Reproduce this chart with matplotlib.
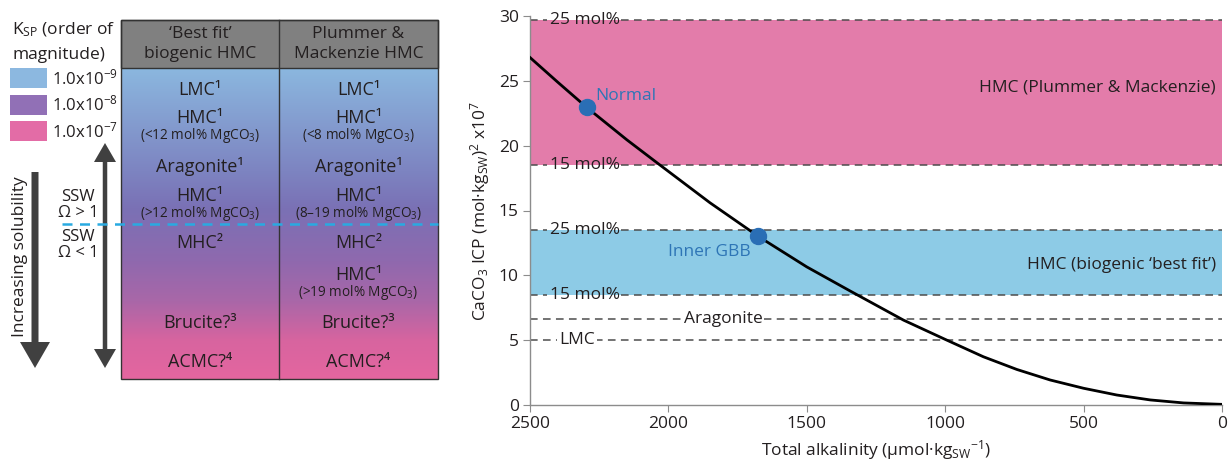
import numpy as np
import matplotlib
matplotlib.use("Agg")
import matplotlib.pyplot as plt
from matplotlib.patches import Rectangle, FancyArrow
from matplotlib.colors import LinearSegmentedColormap

plt.rcParams['font.family'] = ['Open Sans', 'DejaVu Sans']
plt.rcParams['mathtext.fontset'] = 'custom'
plt.rcParams['mathtext.rm'] = 'Open Sans'
plt.rcParams['mathtext.it'] = 'Open Sans:italic'
plt.rcParams['mathtext.bf'] = 'Open Sans:bold'

TXT = '#231F20'

# ---- data: curve ----
alkalinity = [2500, 2400, 2295, 2150, 2030, 1850, 1705, 1675, 1500, 1344, 1151, 1000,
              862, 741, 621, 500, 380, 259, 139, 0]
icp = [26.8, 24.9, 22.95, 20.45, 18.5, 15.6, 13.45, 13.0, 10.65, 8.8, 6.55, 5.06,
       3.72, 2.74, 1.93, 1.29, 0.77, 0.39, 0.16, 0.05]

site_names = ['Normal', 'Inner GBB']
site_alk = [2295, 1675]
site_icp = [23.0, 13.0]

# threshold lines (value, label)
line_vals = [29.7, 18.5, 13.5, 8.5, 6.6, 5.0]
line_labels = ['25 mol%', '15 mol%', '25 mol%', '15 mol%', 'Aragonite', 'LMC']
bands = [(18.5, 29.7, '#E37CAA', 'HMC (Plummer & Mackenzie)'),
         (8.5, 13.5, '#8DCBE6', 'HMC (biogenic \u2018best fit\u2019)')]

# ---- table data ----
headers = ['\u2018Best fit\u2019\nbiogenic HMC', 'Plummer &\nMackenzie HMC']
col1_rows = ['LMC\u00B9', 'HMC\u00B9', 'Aragonite\u00B9', 'HMC\u00B9', 'MHC\u00B2', '',
             'Brucite?\u00B3', 'ACMC?\u2074']
col1_notes = ['', '(<12 mol% MgCO$_3$)', '', '(>12 mol% MgCO$_3$)', '', '', '', '']
col2_rows = ['LMC\u00B9', 'HMC\u00B9', 'Aragonite\u00B9', 'HMC\u00B9', 'MHC\u00B2', 'HMC\u00B9',
             'Brucite?\u00B3', 'ACMC?\u2074']
col2_notes = ['', '(<8 mol% MgCO$_3$)', '', '(8\u201319 mol% MgCO$_3$)', '', '(>19 mol% MgCO$_3$)', '', '']
row_y = [90, 118, 166, 196, 243, 275, 323, 362]

ksp_labels = ['1.0x10$^{-9}$', '1.0x10$^{-8}$', '1.0x10$^{-7}$']
ksp_colors = ['#8CB8E0', '#9170B6', '#E36CA6']

W, H = 1229, 462
fig = plt.figure(figsize=(W / 100, H / 100), dpi=100)

# ---------------- left schematic ----------------
ax0 = fig.add_axes([0, 0, 470 / W, 1])
ax0.set_xlim(0, 470)
ax0.set_ylim(H, 0)
ax0.axis('off')

x0, x1, xm = 121, 438, 279
ytop, yhead, ybot = 20, 68, 379

grad = LinearSegmentedColormap.from_list('g', [
    (0.0, '#8BB7DF'), (0.33, '#7D84C1'), (0.45, '#7A71B5'),
    (0.62, '#8F69AE'), (0.75, '#A967A8'), (0.88, '#D8649F'), (1.0, '#E4669F')])
ax0.imshow(np.linspace(0, 1, 256).reshape(-1, 1), cmap=grad, aspect='auto',
           extent=(x0, x1, ybot, yhead), zorder=1)
ax0.add_patch(Rectangle((x0, ytop), x1 - x0, yhead - ytop, facecolor='#808080',
                        edgecolor='#333333', lw=1, zorder=2))
ax0.add_patch(Rectangle((x0, ytop), x1 - x0, ybot - ytop, facecolor='none',
                        edgecolor='#333333', lw=1, zorder=3))
ax0.plot([xm, xm], [ytop, ybot], color='#333333', lw=1, zorder=3)

for cx, head in zip([(x0 + xm) / 2, (xm + x1) / 2], headers):
    ax0.text(cx, 44, head, ha='center', va='center', fontsize=12.5, color=TXT,
             linespacing=1.25, zorder=4)

for cx, rows, notes in [((x0 + xm) / 2, col1_rows, col1_notes),
                        ((xm + x1) / 2, col2_rows, col2_notes)]:
    for y, r, n in zip(row_y, rows, notes):
        if r:
            ax0.text(cx, y, r, ha='center', va='center', fontsize=13, color=TXT, zorder=4)
        if n:
            ax0.text(cx, y + 17.5, n, ha='center', va='center', fontsize=9.8, color=TXT, zorder=4)

# SSW boundary
ax0.plot([62, x1], [224, 224], color='#29AAE1', lw=1.8, dashes=(4, 3), zorder=5)

# legend of Ksp
ax0.text(12, 30, 'K$_{\\mathrm{SP}}$ (order of', ha='left', va='center', fontsize=12.5, color=TXT)
ax0.text(12, 55, 'magnitude)', ha='left', va='center', fontsize=12.5, color=TXT)
for i, (lab, c) in enumerate(zip(ksp_labels, ksp_colors)):
    yy = 68 + i * 26.5
    ax0.add_patch(Rectangle((10, yy), 37, 20, facecolor=c, edgecolor='none'))
    ax0.text(52, yy + 10, lab, ha='left', va='center', fontsize=12, color=TXT)

# arrows
ax0.add_patch(FancyArrow(35, 172, 0, 196, width=7, head_width=30, head_length=26,
                         length_includes_head=True, color='#404040', lw=0))
ax0.text(20, 257, 'Increasing solubility', rotation=90, ha='center', va='center',
         fontsize=12.5, color=TXT)
for y_end in (143, 368):
    ax0.add_patch(FancyArrow(105, 255, 0, y_end - 255, width=4.5, head_width=22,
                             head_length=19, length_includes_head=True,
                             color='#404040', lw=0))
for y, s in zip([197, 213, 237, 253], ['SSW', '\u03A9 > 1', 'SSW', '\u03A9 < 1']):
    ax0.text(78, y, s, ha='center', va='center', fontsize=12, color=TXT, zorder=6)

# ---------------- right chart ----------------
ax = fig.add_axes([530 / W, 1 - 405 / H, 692 / W, 389 / H])
ax.set_xlim(2500, 0)
ax.set_ylim(0, 30)

for lo, hi, c, lab in bands:
    ax.axhspan(lo, hi, color=c, lw=0, zorder=0)
    ax.text(22, (lo + hi) / 2 + (0.4 if lo > 15 else -0.2), lab, ha='right', va='center',
            fontsize=12.5, color=TXT)

dash_kw = dict(color='#4D4D4D', lw=1.1, dashes=(5, 3.5), zorder=1)
for v, lab in zip(line_vals, line_labels):
    if 'mol' in lab:
        ax.plot([2500, 2440], [v, v], **dash_kw)
        ax.plot([2170, 0], [v, v], **dash_kw)
        ax.text(2428, v, lab, ha='left', va='center', fontsize=12.5, color=TXT)
    else:
        ax.plot([2500, 0], [v, v], **dash_kw)
        xt = 1803 if lab == 'Aragonite' else 2330
        ax.text(xt, v, lab, ha='center', va='center', fontsize=12.5, color=TXT,
                bbox=dict(facecolor='white', edgecolor='none', pad=1.5), zorder=2)

ax.plot(alkalinity, icp, color='black', lw=2, zorder=3, solid_joinstyle='round')
ax.plot(site_alk, site_icp, 'o', color='#2A6EB5', ms=11.5, zorder=4)
ax.text(2265, 23.8, site_names[0], ha='left', va='center', fontsize=12.5, color='#2E75B6')
ax.text(1702, 11.8, site_names[1], ha='right', va='center', fontsize=12.5, color='#2E75B6')

ax.set_xticks([2500, 2000, 1500, 1000, 500, 0])
ax.set_yticks([0, 5, 10, 15, 20, 25, 30])
for s in ['top', 'right']:
    ax.spines[s].set_visible(False)
for s in ['left', 'bottom']:
    ax.spines[s].set_color('#8C8C8C')
    ax.spines[s].set_linewidth(1)
ax.tick_params(direction='out', length=5, color='#8C8C8C', labelsize=12.5,
               labelcolor=TXT, pad=3)
ax.set_xlabel('Total alkalinity (\u03BCmol\u00B7kg$_{\\mathrm{SW}}$$^{-1}$)', fontsize=12.5,
              color=TXT, labelpad=4)
ax.set_ylabel('CaCO$_3$ ICP (mol\u00B7kg$_{\\mathrm{SW}}$)$^2$ x10$^7$', fontsize=12.5,
              color=TXT, labelpad=5)

fig.savefig('out.png', dpi=100)
